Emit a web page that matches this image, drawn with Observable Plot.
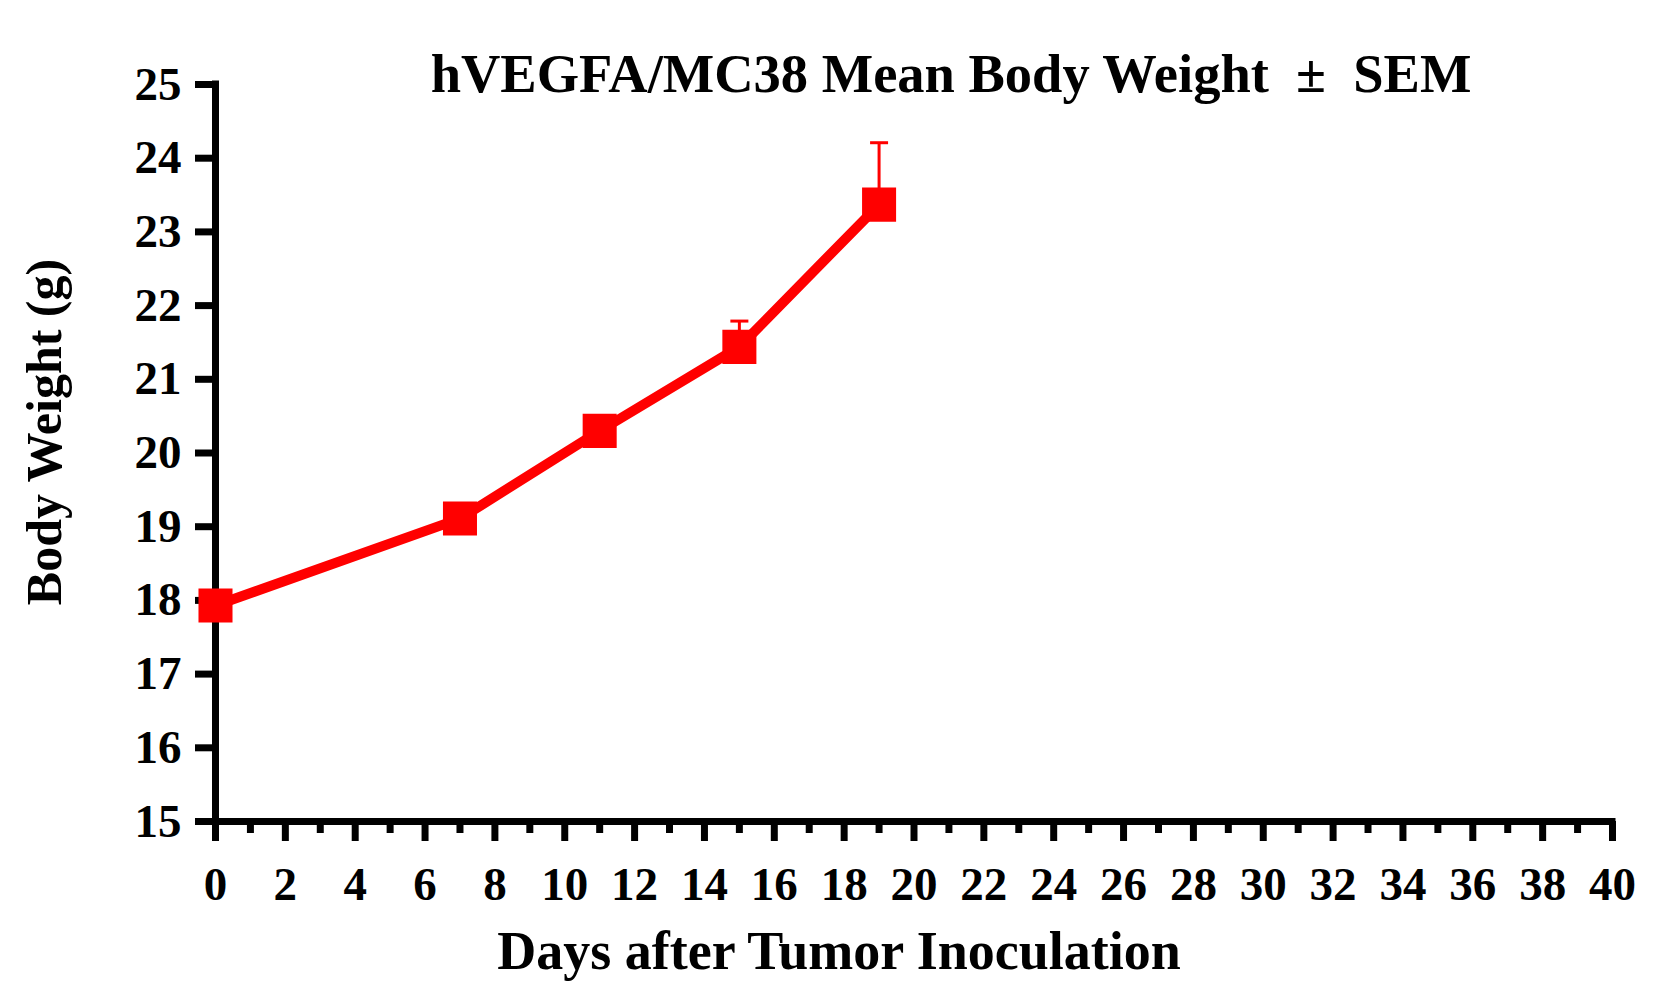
<!DOCTYPE html>
<html>
<head>
<meta charset="utf-8">
<script src="https://cdn.jsdelivr.net/npm/d3@7"></script>
<script src="https://cdn.jsdelivr.net/npm/@observablehq/plot@0.6"></script>
<style>
  html, body { margin: 0; padding: 0; background: #fff; overflow: hidden; }
  #chart svg { display: block; }
</style>
</head>
<body>
<div id="chart"></div>
<script>
// ---- data ----
const days = [0, 7, 11, 15, 19];
const meanWeight = [17.93, 19.11, 20.30, 21.44, 23.37];
const semWeight = [0.12, 0.15, 0.18, 0.35, 0.84];
const xTicks = d3.range(0, 41, 2);
const xMinorTicks = d3.range(1, 40, 2);
const yTicks = d3.range(15, 26, 1);
const titleText = "hVEGFA/MC38 Mean Body Weight\u2002\u00B1\u2002SEM";
const xLabel = "Days after Tumor Inoculation";
const yLabel = "Body Weight (g)";

const rows = days.map((d, i) => ({day: d, mean: meanWeight[i], sem: semWeight[i]}));

const RED = "#ff0000";
const FONT = "'Liberation Serif', 'Times New Roman', serif";

const capSymbol = {
  draw(context, size) {
    const r = Math.sqrt(size / Math.PI);
    context.moveTo(-r, 0);
    context.lineTo(r, 0);
  }
};

const chart = Plot.plot({
  width: 1678,
  height: 994,
  marginLeft: 215,
  marginRight: 66,
  marginTop: 84,
  marginBottom: 173,
  style: {fontFamily: FONT, fontWeight: "bold", fontSize: "47px", color: "#000", background: "#fff"},
  x: {domain: [0, 40]},
  y: {domain: [15, 25]},
  marks: [
    Plot.axisY(yTicks, {tickSize: 20, tickPadding: 14, strokeWidth: 7, label: null, tickFormat: d3.format("d"), fontSize: 47, fontWeight: "bold"}),
    Plot.axisX(xTicks, {tickSize: 20, tickPadding: 25, strokeWidth: 7, label: null, tickFormat: d3.format("d"), fontSize: 47, fontWeight: "bold"}),
    Plot.axisX(xMinorTicks, {tickSize: 12, strokeWidth: 7, tickFormat: () => "", label: null}),
    Plot.ruleX([0], {strokeWidth: 7, strokeLinecap: "square"}),
    Plot.ruleY([15], {strokeWidth: 7, strokeLinecap: "square"}),
    Plot.line(rows, {x: "day", y: "mean", stroke: RED, strokeWidth: 10, strokeLinejoin: "round"}),
    Plot.ruleX(rows, {x: "day", y1: "mean", y2: d => d.mean + d.sem, stroke: RED, strokeWidth: 3}),
    Plot.dot(rows, {x: "day", y: d => d.mean + d.sem, symbol: capSymbol, r: 9, stroke: RED, strokeWidth: 3, fill: "none"}),
    Plot.dot(rows, {x: "day", y: "mean", symbol: "square", r: 19.2, fill: RED, stroke: "none"}),
    Plot.text([titleText], {frameAnchor: "top", textAnchor: "middle", lineAnchor: "bottom", dx: 37, dy: 7, fontSize: 54.5, fontWeight: "bold", fill: "#000"}),
    Plot.text([xLabel], {frameAnchor: "bottom", textAnchor: "middle", lineAnchor: "bottom", dx: -75, dy: 147, fontSize: 54, fontWeight: "bold", fill: "#000"}),
    Plot.text([yLabel], {frameAnchor: "left", textAnchor: "middle", lineAnchor: "bottom", rotate: -90, dx: -155, dy: -21, fontSize: 50, fontWeight: "bold", fill: "#000"})
  ]
});
document.getElementById("chart").appendChild(chart);
</script>
</body>
</html>
